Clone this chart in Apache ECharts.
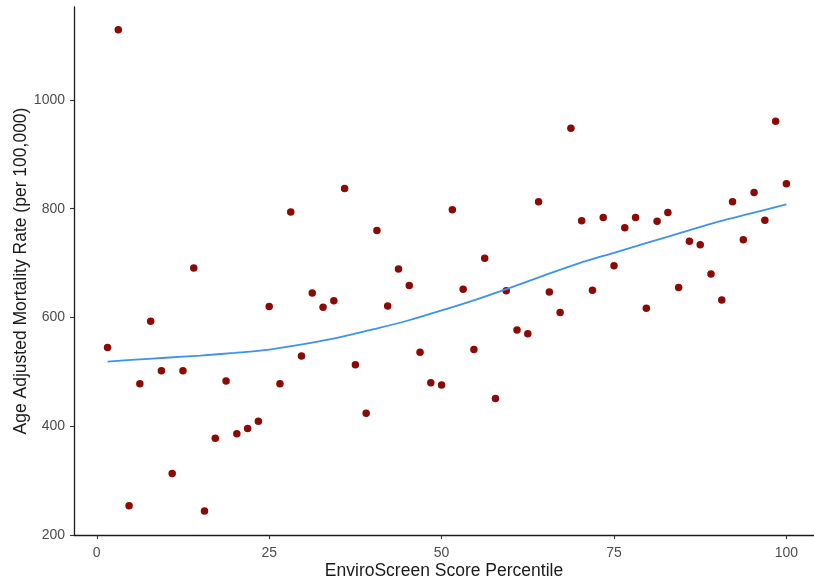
<!DOCTYPE html>
<html>
<head>
<meta charset="utf-8">
<script src="https://cdn.jsdelivr.net/npm/echarts@6/dist/echarts.min.js"></script>
<style>html,body{margin:0;padding:0;background:#fff}#c{width:814px;height:586px}</style>
</head>
<body>
<div id="c"></div>
<script>
// Scatter data: EnviroScreen score percentile (x) and age adjusted mortality rate (y)
const percentile = [1.5625, 3.125, 4.6875, 6.25, 7.8125, 9.375, 10.9375, 12.5, 14.0625, 15.625,
  17.1875, 18.75, 20.3125, 21.875, 23.4375, 25, 26.5625, 28.125, 29.6875, 31.25,
  32.8125, 34.375, 35.9375, 37.5, 39.0625, 40.625, 42.1875, 43.75, 45.3125, 46.875,
  48.4375, 50, 51.5625, 53.125, 54.6875, 56.25, 57.8125, 59.375, 60.9375, 62.5,
  64.0625, 65.625, 67.1875, 68.75, 70.3125, 71.875, 73.4375, 75, 76.5625, 78.125,
  79.6875, 81.25, 82.8125, 84.375, 85.9375, 87.5, 89.0625, 90.625, 92.1875, 93.75,
  95.3125, 96.875, 98.4375, 100];
const mortality = [545, 1129, 254, 478, 593, 502, 313, 502, 691, 244,
  378, 483, 386, 396, 409, 620, 478, 794, 529, 645,
  619, 631, 837, 513, 424, 760, 621, 689, 659, 536,
  480, 476, 798, 652, 541, 709, 451, 649, 577, 570,
  813, 647, 609, 948, 778, 650, 784, 695, 765, 784,
  617, 777, 793, 655, 740, 734, 680, 632, 813, 743,
  830, 779, 961, 846];
// Smoothed trend (loess)
const smoothX = [1.5625, 5, 10, 15, 20, 25, 30, 35, 40, 45, 50, 55, 60, 65, 70, 75, 80, 85, 90, 95, 100];
const smoothY = [519, 522, 526, 530, 535, 541, 551, 563, 578, 594, 613, 633, 655, 678, 700, 719, 738, 757, 776, 792, 808];
const xTicks = [0, 25, 50, 75, 100];
const yTicks = [200, 400, 600, 800, 1000];

const chart = echarts.init(document.getElementById('c'), null, {renderer: 'canvas'});
const font = '"Liberation Sans", Arial, sans-serif';
chart.setOption({
  animation: false,
  backgroundColor: '#ffffff',
  grid: {left: 74, top: 7, right: 0, bottom: 51, containLabel: false, outerBoundsMode: 'none'},
  xAxis: {
    type: 'value', min: -3.3, max: 104.0,
    name: 'EnviroScreen Score Percentile', nameLocation: 'middle', nameGap: 27,
    nameMoveOverlap: false,
    nameTextStyle: {color: '#1a1a1a', fontSize: 17.5, fontFamily: font},
    splitLine: {show: false},
    axisLine: {show: true, onZero: false, lineStyle: {color: '#1a1a1a', width: 1.3}},
    axisTick: {show: true, length: 4, lineStyle: {color: '#333333', width: 1.1}, customValues: xTicks},
    axisLabel: {color: '#4d4d4d', fontSize: 14, fontFamily: font, margin: 11, customValues: xTicks,
      formatter: v => String(v)}
  },
  yAxis: {
    type: 'value', min: 200, max: 1171,
    name: 'Age Adjusted Mortality Rate (per 100,000)', nameLocation: 'middle', nameGap: 44,
    nameMoveOverlap: false,
    nameRotate: 90,
    nameTextStyle: {color: '#1a1a1a', fontSize: 17.5, fontFamily: font},
    splitLine: {show: false},
    axisLine: {show: true, onZero: false, lineStyle: {color: '#1a1a1a', width: 1.3}},
    axisTick: {show: true, length: 4, lineStyle: {color: '#333333', width: 1.1}, customValues: yTicks},
    axisLabel: {color: '#4d4d4d', fontSize: 14, fontFamily: font, margin: 9, customValues: yTicks,
      formatter: v => String(v)}
  },
  series: [
    {
      type: 'scatter',
      data: percentile.map((x, i) => [x, mortality[i]]),
      symbolSize: 7.5,
      itemStyle: {color: '#8b0a05', opacity: 1},
      z: 2
    },
    {
      type: 'line',
      data: smoothX.map((x, i) => [x, smoothY[i]]),
      smooth: 0.3,
      showSymbol: false,
      lineStyle: {color: '#3d92ec', width: 1.8},
      z: 3
    }
  ]
});
</script>
</body>
</html>
